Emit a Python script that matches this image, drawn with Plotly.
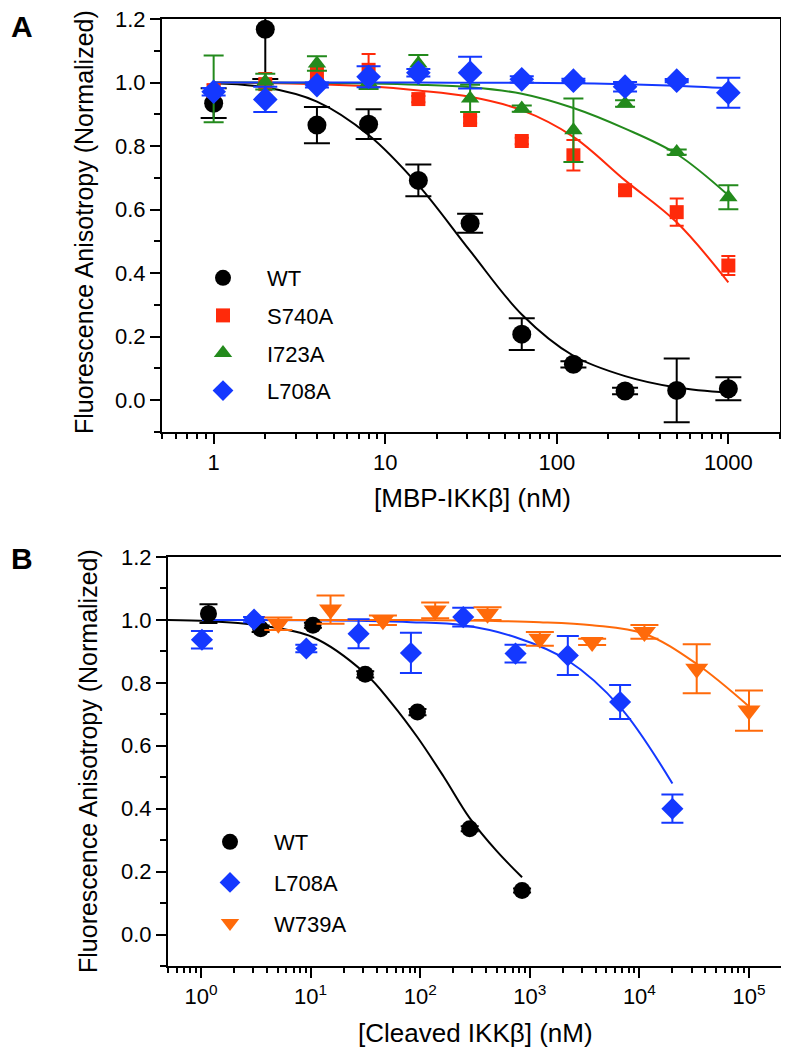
import math
import plotly.graph_objects as go

FONT = "Liberation Sans, Arial, Helvetica, sans-serif"

# ---------------- Panel A data ----------------
a_conc = [1, 2, 4, 8, 15.6, 31.25, 62.5, 125, 250, 500, 1000]
a_wt = [0.935, 1.168, 0.866, 0.869, 0.692, 0.557, 0.208, 0.113, 0.029, 0.031, 0.036]
a_wt_err = [0.047, 0.157, 0.057, 0.047, 0.05, 0.03, 0.05, 0.01, 0.01, 0.1, 0.036]
a_s740a = [0.975, 0.995, 1.03, 1.04, 0.948, 0.882, 0.816, 0.771, 0.661, 0.592, 0.424]
a_s740a_err = [0.02, 0.035, 0.02, 0.05, 0.01, 0.01, 0.01, 0.048, 0.01, 0.043, 0.03]
a_i723a = [0.98, 1.003, 1.06, 1.0, 1.06, 0.95, 0.918, 0.85, 0.934, 0.781, 0.639]
a_i723a_err = [0.105, 0.025, 0.023, 0.02, 0.027, 0.043, 0.01, 0.1, 0.01, 0.008, 0.038]
a_l708a = [0.971, 0.947, 0.992, 1.018, 1.031, 1.031, 1.01, 1.006, 0.987, 1.006, 0.968]
a_l708a_err = [0.012, 0.04, 0.008, 0.033, 0.012, 0.05, 0.01, 0.006, 0.015, 0.005, 0.047]

# fitted curves
a_fit_wt = [0.998, 0.985, 0.94, 0.835, 0.677, 0.47, 0.27, 0.14, 0.076, 0.04, 0.024]
a_fit_s740a = [1.0, 0.998, 0.995, 0.988, 0.975, 0.955, 0.913, 0.829, 0.692, 0.56, 0.371]
a_fit_i723a = [1.0, 1.0, 0.999, 0.997, 0.993, 0.985, 0.965, 0.92, 0.855, 0.775, 0.645]
a_fit_l708a = [1.0, 1.0, 1.0, 1.0, 1.0, 0.999, 0.999, 0.998, 0.995, 0.99, 0.982]

a_xticks = [1, 10, 100, 1000]
a_xticktext = ["1", "10", "100", "1000"]

# ---------------- Panel B data ----------------
b_wt_conc = [1.17, 3.5, 10.5, 31.5, 94.4, 283, 850]
b_wt = [1.02, 0.972, 0.983, 0.827, 0.707, 0.336, 0.14]
b_wt_err = [0.03, 0.01, 0.008, 0.01, 0.01, 0.008, 0.006]
b_l708a_conc = [1.02, 3.05, 9.14, 27.4, 82.3, 247, 741, 2222, 6667, 20000]
b_l708a = [0.937, 1.001, 0.909, 0.956, 0.895, 1.009, 0.893, 0.887, 0.739, 0.40]
b_l708a_err = [0.028, 0.008, 0.012, 0.046, 0.064, 0.03, 0.028, 0.062, 0.054, 0.045]
b_w739a_conc = [5.08, 15.2, 45.7, 137, 411.5, 1235, 3704, 11111, 33333, 100000]
b_w739a = [0.988, 1.033, 0.999, 1.03, 1.02, 0.94, 0.93, 0.962, 0.845, 0.712]
b_w739a_err = [0.02, 0.045, 0.015, 0.025, 0.02, 0.022, 0.01, 0.022, 0.078, 0.064]

b_fit_wt_conc = [0.5, 1.17, 3.5, 10.5, 31.5, 55, 94.4, 165, 283, 500, 850]
b_fit_wt = [1.0, 0.996, 0.982, 0.945, 0.83, 0.735, 0.627, 0.5, 0.37, 0.265, 0.182]
b_fit_l708a = [1.0, 1.0, 0.999, 0.997, 0.993, 0.983, 0.945, 0.871, 0.723, 0.48]
b_fit_w739a = [1.0, 1.0, 1.0, 0.999, 0.997, 0.993, 0.983, 0.956, 0.86, 0.725]

b_xticks = [1, 10, 100, 1000, 10000, 100000]
b_xticktext = ["10<sup>0</sup>", "10<sup>1</sup>", "10<sup>2</sup>",
               "10<sup>3</sup>", "10<sup>4</sup>", "10<sup>5</sup>"]

y_ticks = [0.0, 0.2, 0.4, 0.6, 0.8, 1.0, 1.2]
y_ticktext = ["0.0", "0.2", "0.4", "0.6", "0.8", "1.0", "1.2"]

BLACK = "#000000"
RED = "#ff2a0a"
GREEN = "#238a1c"
BLUE = "#1438ff"
ORANGE = "#ff6a0a"

W, H = 789, 1050
OFF = 8  # default body margin of the html page


def px(v):
    return (v - OFF) / W


def py(v):
    return 1 - (v - OFF) / H


fig = go.Figure()


def fit(x, y, color, xa, ya):
    fig.add_trace(go.Scatter(x=x, y=y, mode="lines", line=dict(color=color, width=2, shape="spline"),
                             showlegend=False, hoverinfo="skip", xaxis=xa, yaxis=ya))


def pts(x, y, err, name, color, symbol, size, cap, xa, ya, legend):
    fig.add_trace(go.Scatter(
        x=x, y=y, mode="markers", name=name, legendgroup=name + legend, legend=legend,
        marker=dict(color=color, symbol=symbol, size=size, line=dict(width=0)),
        error_y=dict(type="data", array=err, visible=True, color=color, thickness=2, width=cap),
        xaxis=xa, yaxis=ya))


# Panel A
fit(a_conc, a_fit_wt, BLACK, "x", "y")
fit(a_conc, a_fit_s740a, RED, "x", "y")
fit(a_conc, a_fit_i723a, GREEN, "x", "y")
fit(a_conc, a_fit_l708a, BLUE, "x", "y")
pts(a_conc, a_wt, a_wt_err, "WT", BLACK, "circle", 19, 13, "x", "y", "legend")
pts(a_conc, a_s740a, a_s740a_err, "S740A", RED, "square", 14, 7, "x", "y", "legend")
pts(a_conc, a_i723a, a_i723a_err, "I723A", GREEN, "triangle-up", 16, 10, "x", "y", "legend")
pts(a_conc, a_l708a, a_l708a_err, "L708A", BLUE, "diamond", 19, 12, "x", "y", "legend")

# Panel B
fit(b_fit_wt_conc, b_fit_wt, BLACK, "x2", "y2")
fit(b_l708a_conc, b_fit_l708a, BLUE, "x2", "y2")
fit(b_w739a_conc, b_fit_w739a, ORANGE, "x2", "y2")
pts(b_wt_conc, b_wt, b_wt_err, "WT", BLACK, "circle", 17, 9, "x2", "y2", "legend2")
pts(b_l708a_conc, b_l708a, b_l708a_err, "L708A", BLUE, "diamond", 17, 11, "x2", "y2", "legend2")
pts(b_w739a_conc, b_w739a, b_w739a_err, "W739A", ORANGE, "triangle-down", 20, 14, "x2", "y2", "legend2")


def minor_log(lo, hi):
    vals = []
    for d in range(lo, hi + 1):
        for m in range(2, 10):
            vals.append(m * 10 ** d)
    return vals


axis_common = dict(showline=True, linecolor="black", linewidth=2, mirror=True,
                   ticks="outside", ticklen=10, tickwidth=2, tickcolor="black",
                   showgrid=False, zeroline=False, automargin=False,
                   ticklabeloverflow="allow",
                   tickfont=dict(family=FONT, size=22, color="black"))

fig.update_layout(
    template="none",
    width=W, height=H,
    margin=dict(l=0, r=0, t=0, b=0, pad=0, autoexpand=False),
    paper_bgcolor="white", plot_bgcolor="white",
    font=dict(family=FONT, color="black"),
    xaxis=dict(type="log", range=[math.log10(0.5), math.log10(2000)],
               domain=[px(162), px(780)], anchor="y",
               tickmode="array", tickvals=a_xticks, ticktext=a_xticktext,
               minor=dict(tickmode="array", tickvals=minor_log(-1, 3), ticks="outside",
                          ticklen=5, tickwidth=2, tickcolor="black", showgrid=False),
               **axis_common),
    yaxis=dict(range=[-0.1, 1.2], domain=[py(432), py(19)], anchor="x",
               tickmode="array", tickvals=y_ticks, ticktext=y_ticktext,
               minor=dict(tickmode="linear", tick0=0, dtick=0.1, ticks="outside",
                          ticklen=6, tickwidth=2, tickcolor="black", showgrid=False),
               **axis_common),
    xaxis2=dict(type="log", range=[math.log10(0.5), math.log10(2e5)],
                domain=[px(168), px(782)], anchor="y2",
                tickmode="array", tickvals=b_xticks, ticktext=b_xticktext,
                minor=dict(tickmode="array", tickvals=minor_log(-1, 5), ticks="outside",
                           ticklen=5, tickwidth=2, tickcolor="black", showgrid=False),
                **axis_common),
    yaxis2=dict(range=[-0.1, 1.2], domain=[py(966), py(557)], anchor="x2",
                tickmode="array", tickvals=y_ticks, ticktext=y_ticktext,
                minor=dict(tickmode="linear", tick0=0, dtick=0.1, ticks="outside",
                           ticklen=6, tickwidth=2, tickcolor="black", showgrid=False),
                **axis_common),
    legend=dict(x=px(179), y=py(257), xanchor="left", yanchor="top",
                bgcolor="rgba(0,0,0,0)", font=dict(family=FONT, size=22, color="black"),
                itemwidth=78, tracegroupgap=6, traceorder="grouped"),
    legend2=dict(x=px(186), y=py(821), xanchor="left", yanchor="top",
                 bgcolor="rgba(0,0,0,0)", font=dict(family=FONT, size=22, color="black"),
                 itemwidth=78, tracegroupgap=9, traceorder="grouped"),
    showlegend=True,
)

ann = [
    dict(text="<b>A</b>", x=px(22), y=py(8), yanchor="top", font=dict(size=30)),
    dict(text="<b>B</b>", x=px(22), y=py(558), yanchor="middle", font=dict(size=30)),
    dict(text="Fluorescence Anisotropy (Normalized)", x=px(84), y=py(222),
         yanchor="middle", textangle=-90, font=dict(size=25)),
    dict(text="Fluorescence Anisotropy (Normalized)", x=px(88), y=py(761),
         yanchor="middle", textangle=-90, font=dict(size=25)),
    dict(text="[MBP-IKKβ] (nM)", x=px(472), y=py(498), yanchor="middle", font=dict(size=26)),
    dict(text="[Cleaved IKKβ] (nM)", x=px(476), y=py(1033), yanchor="middle", font=dict(size=26)),
]
for a in ann:
    a.update(xref="paper", yref="paper", showarrow=False, xanchor="center")
    a["font"].update(family=FONT, color="black")
fig.update_layout(annotations=ann)

fig.write_html("out.html")
